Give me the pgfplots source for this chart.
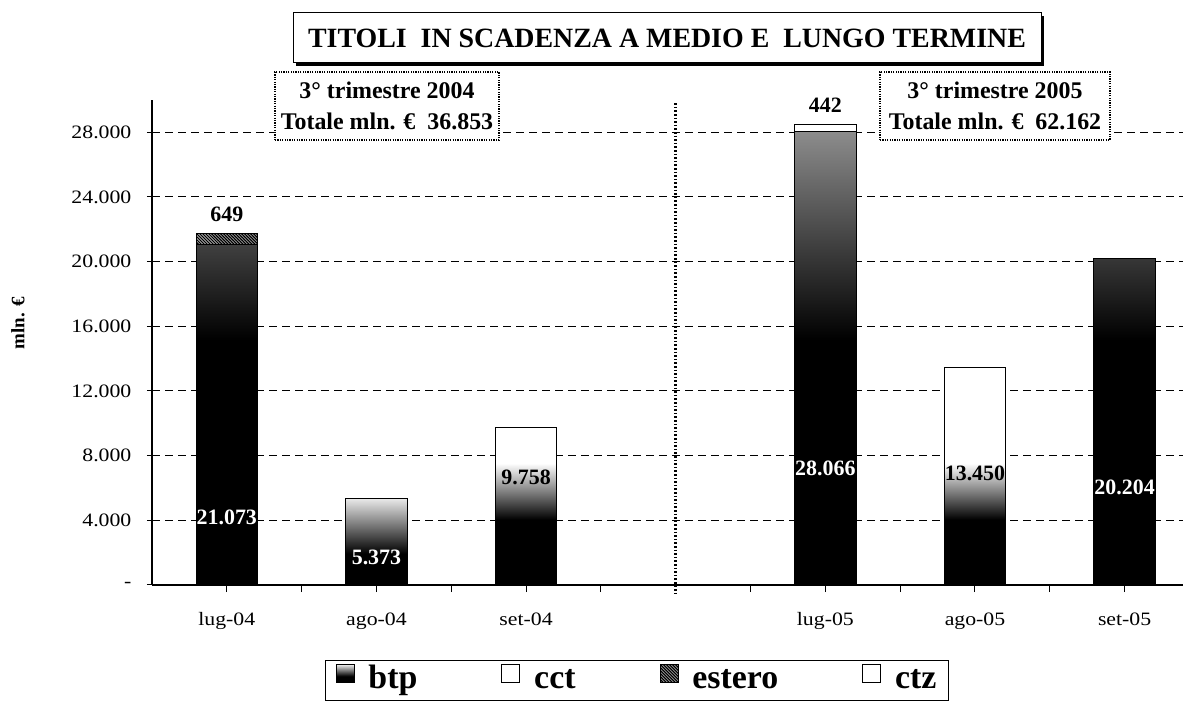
\documentclass[border=0pt]{standalone}
\usepackage{fontspec}
\setmainfont{Liberation Serif}
\newfontfamily\tickfont[FakeStretch=1.15]{Liberation Serif}
\usepackage{pgfplots}
\pgfplotsset{compat=1.18}
\usepackage{pgfplotstable}
\usetikzlibrary{patterns,shadows}

\pgfdeclareverticalshading{btpdark}{100bp}{color(0bp)=(black); color(25bp)=(black); color(52bp)=(black); color(75bp)=(black!45); color(100bp)=(black!45)}
\pgfdeclareverticalshading{btpmid}{100bp}{color(0bp)=(black); color(25bp)=(black); color(43bp)=(black); color(75bp)=(black!8); color(100bp)=(black!8)}
\pgfdeclareverticalshading{btplight}{100bp}{color(0bp)=(black); color(25bp)=(black); color(40bp)=(black); color(53bp)=(white); color(100bp)=(white)}

% btp bars, grouped by shading
\pgfplotstableread{
x y
0 21073
4 28066
6 20204
}\btpdark
\pgfplotstableread{
x y
1 5373
}\btpmid
\pgfplotstableread{
x y
2 9758
5 13450
}\btplight
% estero and ctz on top of btp
\pgfplotstableread{
x base y
0 21073 649
}\estero
\pgfplotstableread{
x base y
4 28066 442
}\ctz

\begin{document}
\begin{tikzpicture}
\path[use as bounding box] (0,0) rectangle (1187bp,702bp);
\begin{axis}[
  at={(152bp,117bp)}, anchor=south west,
  scale only axis, width=1031bp, height=485bp,
  xmin=-0.5, xmax=6.39, ymin=0, ymax=30000,
  enlargelimits=false, clip=false,
  scaled y ticks=false,
  axis lines=left, axis line style={-, line width=1.2bp},
  ytick={0,4000,8000,12000,16000,20000,24000,28000},
  yticklabels={-,4.000,8.000,12.000,16.000,20.000,24.000,28.000},
  ytick align=center,
  ytick style={line width=1bp, black, /pgfplots/major tick length=10bp},
  ymajorgrids, grid style={dash pattern=on 8bp off 5bp, line width=1bp, black},
  xtick={0.5,1.5,2.5,3.5,4.5,5.5}, xticklabels={},
  xtick align=outside,
  xtick style={line width=1bp, black, /pgfplots/major tick length=7bp},
  extra x ticks={0,1,2,4,5,6},
  extra x tick labels={lug-04,ago-04,set-04,lug-05,ago-05,set-05},
  extra x tick style={major tick length=0pt, grid=none},
  tick label style={font=\tickfont\fontsize{19}{22}\selectfont, text=black},
  yticklabel style={xshift=-15bp},
  xticklabel style={yshift=-24bp},
  ylabel={mln. €},
  ylabel style={font=\fontsize{19}{22}\selectfont\bfseries, at={(axis description cs:-0.13,0.54)}, anchor=center},
  mybar/.style={ybar, bar width=0.41, bar shift=0pt, draw=black, line width=1bp},
  legend image code/.code={\draw[#1, line width=0.8bp] (0bp,-2bp) rectangle (18bp,16bp);},
  legend style={at={(axis description cs:0.168,-0.155)}, anchor=north west,
    draw=black, line width=1bp, font=\fontsize{34}{38}\selectfont\bfseries,
    inner xsep=10bp, inner ysep=2bp,
    nodes={text height=24bp, text depth=8bp},
    /tikz/every even column/.append style={column sep=82bp},
    /tikz/every odd column/.append style={column sep=12bp}},
  legend columns=4,
]
\addplot[mybar, fill=black, postaction={pattern=north west lines, pattern color=white}, forget plot]
  table[x=x, y expr=\thisrow{base}+\thisrow{y}] {\estero};
\addplot[mybar, fill=white, forget plot]
  table[x=x, y expr=\thisrow{base}+\thisrow{y}] {\ctz};
\addplot[mybar, shade, shading=btpdark, forget plot] table[x=x,y=y] {\btpdark};
\addplot[mybar, shade, shading=btpmid, forget plot] table[x=x,y=y] {\btpmid};
\addplot[mybar, shade, shading=btplight, forget plot] table[x=x,y=y] {\btplight};

\addlegendimage{shade, shading=btpmid, draw=black}
\addlegendentry{btp}
\addlegendimage{fill=white, draw=black}
\addlegendentry{cct}
\addlegendimage{fill=black, draw=black, postaction={pattern=north west lines, pattern color=white}}
\addlegendentry{estero}
\addlegendimage{fill=white, draw=black}
\addlegendentry{ctz}

% separator between the two quarters
\draw[line width=2.5bp, dash pattern=on 1.6bp off 2bp] (axis cs:3,29800) -- (axis cs:3,-500);

% value labels
\begin{scope}[every node/.style={font=\fontsize{22}{24}\selectfont\bfseries, inner sep=0pt}]
\node at (axis cs:0,22900) {649};
\node[text=white] at (axis cs:0,4200) {21.073};
\node[text=white] at (axis cs:1,1730) {5.373};
\node at (axis cs:2,6670) {9.758};
\node at (axis cs:4,29650) {442};
\node[text=white] at (axis cs:4,7230) {28.066};
\node at (axis cs:5,6920) {13.450};
\node[text=white] at (axis cs:6,6060) {20.204};
\end{scope}
\end{axis}

% title with shadow
\node[draw, line width=1bp, fill=white, minimum width=748bp, minimum height=50bp, inner sep=0pt,
  drop shadow={shadow xshift=3bp, shadow yshift=-3.5bp, opacity=1, fill=black},
  font=\fontsize{28}{30}\selectfont\bfseries] at (667bp,664bp)
  {TITOLI\ \ IN SCADENZA A MEDIO E\ \ LUNGO TERMINE};

% quarter boxes
\node[draw, line width=1.6bp, dash pattern=on 1.2bp off 1.2bp, fill=white, minimum width=224bp, minimum height=68bp,
  inner sep=0pt, align=center, font=\fontsize{24}{31}\selectfont\bfseries] at (387bp,596bp)
  {3° trimestre 2004\\Totale mln. €\ \ 36.853};
\node[draw, line width=1.6bp, dash pattern=on 1.2bp off 1.2bp, fill=white, minimum width=230bp, minimum height=68bp,
  inner sep=0pt, align=center, font=\fontsize{24}{31}\selectfont\bfseries] at (995bp,596bp)
  {3° trimestre 2005\\Totale mln. €\ \ 62.162};
\end{tikzpicture}
\end{document}
